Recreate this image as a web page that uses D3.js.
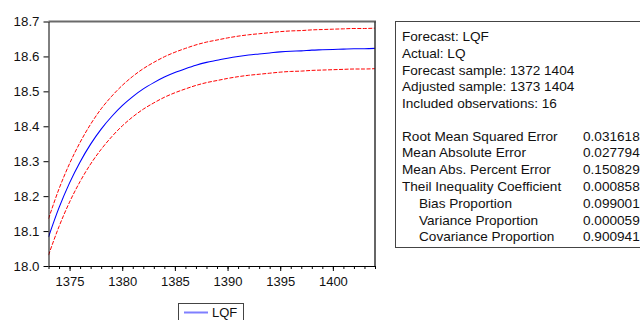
<!DOCTYPE html>
<html><head><meta charset="utf-8">
<script src="https://cdn.jsdelivr.net/npm/d3@7"></script>
<style>
html,body{margin:0;padding:0;background:#fff;overflow:hidden;}
svg text{font-family:"Liberation Sans",Arial,sans-serif;}
</style></head>
<body><svg id="c" width="640" height="320"></svg>
<script>
const years = d3.range(1373, 1405);
const lqf = [18.083,18.167,18.238,18.298,18.349,18.392,18.428,18.459,18.485,18.507,18.525,18.541,18.554,18.565,18.575,18.583,18.589,18.595,18.600,18.604,18.607,18.610,18.613,18.615,18.616,18.618,18.619,18.620,18.621,18.622,18.622,18.623];
const upper = [18.135,18.221,18.293,18.354,18.406,18.450,18.486,18.517,18.543,18.565,18.583,18.599,18.612,18.623,18.633,18.641,18.647,18.653,18.658,18.662,18.665,18.668,18.671,18.673,18.674,18.676,18.677,18.678,18.679,18.680,18.680,18.681];
const lower = [18.031,18.113,18.183,18.242,18.292,18.334,18.370,18.401,18.427,18.449,18.467,18.483,18.496,18.507,18.517,18.525,18.531,18.537,18.542,18.546,18.549,18.552,18.555,18.557,18.558,18.560,18.561,18.562,18.563,18.564,18.564,18.565];
const yTicks = [18.0,18.1,18.2,18.3,18.4,18.5,18.6,18.7];
const xMajor = [1375,1380,1385,1390,1395,1400];
const infoLines = ["Forecast: LQF","Actual: LQ","Forecast sample: 1372 1404","Adjusted sample: 1373 1404","Included observations: 16"];
const statNames = ["Root Mean Squared Error","Mean Absolute Error","Mean Abs. Percent Error","Theil Inequality Coefficient","Bias Proportion","Variance Proportion","Covariance Proportion"];
const statIndent = [false,false,false,false,true,true,true];
const statValues = ["0.031618","0.027794","0.150829","0.000858","0.099001","0.000059","0.900941"];

const svg = d3.select("#c");
const L = 48.5, R = 375, T = 21.5, B = 266;
const x = d3.scaleLinear().domain([1373,1404]).range([L,R]);
const y = d3.scaleLinear().domain([18.0,18.7]).range([B,T]);

svg.append("clipPath").attr("id","pc").append("rect").attr("x",L).attr("y",T-2).attr("width",R-L).attr("height",B-T+4);
const g = svg.append("g").attr("clip-path","url(#pc)");
const line = arr => d3.line().x((d,i)=>x(years[i])).y(d=>y(d)).curve(d3.curveMonotoneX)(arr);
g.append("path").attr("d",line(upper)).attr("fill","none").attr("stroke","#ff0000").attr("stroke-width",1).attr("stroke-dasharray","4,1.5");
g.append("path").attr("d",line(lower)).attr("fill","none").attr("stroke","#ff0000").attr("stroke-width",1).attr("stroke-dasharray","4,1.5");
g.append("path").attr("d",line(lqf)).attr("fill","none").attr("stroke","#0000ff").attr("stroke-width",1.1);

svg.append("line").attr("x1",L).attr("x2",R+1).attr("y1",T).attr("y2",T).attr("stroke","#6a6a6a").attr("stroke-width",2);
svg.append("line").attr("x1",R).attr("x2",R).attr("y1",T).attr("y2",B).attr("stroke","#333").attr("stroke-width",1.5);

const ya = svg.append("g").attr("transform",`translate(${L},0)`)
  .call(d3.axisLeft(y).tickValues(yTicks).tickFormat(d3.format(".1f")).tickSize(5).tickSizeOuter(0).tickPadding(4));
ya.select(".domain").attr("stroke","#000");
ya.selectAll("text").attr("font-size",13.3).attr("fill","#111").style("font-family","'Liberation Sans',Arial,sans-serif");

const xm = svg.append("g").attr("transform",`translate(0,${B})`)
  .call(d3.axisBottom(x).tickValues(years).tickFormat("").tickSize(3).tickSizeOuter(0));
xm.select(".domain").attr("stroke","#000");
const xa = svg.append("g").attr("transform",`translate(0,${B})`)
  .call(d3.axisBottom(x).tickValues(xMajor).tickFormat(d3.format("d")).tickSize(5).tickSizeOuter(0).tickPadding(6));
xa.select(".domain").remove();
xa.selectAll("text").attr("font-size",13).attr("fill","#111").style("font-family","'Liberation Sans',Arial,sans-serif");

svg.append("rect").attr("x",178.5).attr("y",303.5).attr("width",65).attr("height",24).attr("fill","#fff").attr("stroke","#444");
svg.append("line").attr("x1",184).attr("x2",208).attr("y1",312.5).attr("y2",312.5).attr("stroke","#7f7fff").attr("stroke-width",2);
svg.append("text").attr("x",212).attr("y",317).attr("font-size",13).attr("fill","#111").text("LQF");

svg.append("rect").attr("x",395.5).attr("y",21.5).attr("width",260).attr("height",226).attr("fill","#fff").attr("stroke","#444");
infoLines.forEach((t,i)=>{
  svg.append("text").attr("x",402).attr("y",41+i*16.75).attr("font-size",13.6).attr("fill","#111").text(t);
});
statNames.forEach((t,i)=>{
  svg.append("text").attr("x",statIndent[i]?419:402).attr("y",140.5+i*16.8).attr("font-size",13.6).attr("fill","#111").text(t);
  svg.append("text").attr("x",583).attr("y",140.5+i*16.8).attr("font-size",13.6).attr("fill","#111").text(statValues[i]);
});
</script></body></html>
